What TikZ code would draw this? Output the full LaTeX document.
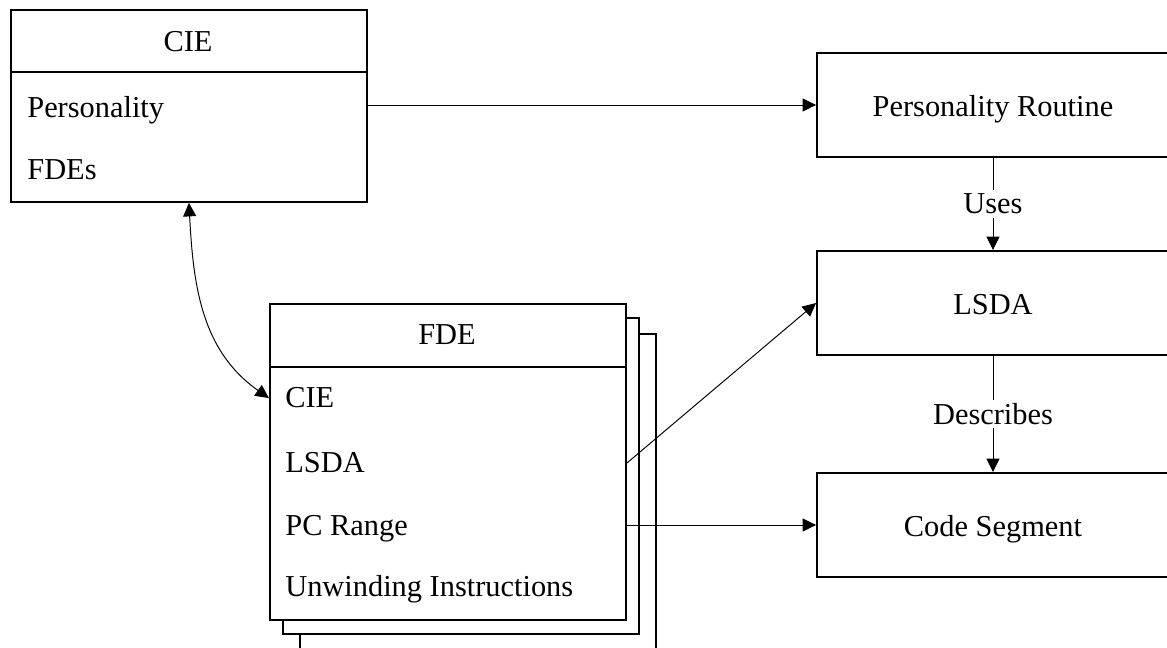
\documentclass[tikz,border=0pt]{standalone}
\usepackage{fontspec}
\setmainfont{Liberation Serif}
\usetikzlibrary{arrows.meta}

\begin{document}
\begin{tikzpicture}[x=0.02cm, y=-0.02cm, every node/.style={font=\fontsize{17.3}{20}\selectfont}, >={Triangle[length=2.7mm, width=2.6mm]},
	box/.style={draw, line width=1.1pt, fill=white, inner sep=0pt},
	recbox/.style={box, anchor=north west, minimum width=7.12cm},
	unitbox/.style={box, minimum width=7.04cm, minimum height=2.08cm, text height=17pt, text depth=3.4pt},
	field/.style={anchor=base west, inner sep=0pt},
	edgetag/.style={fill=white, inner sep=2pt},
	link/.style={->, line width=0.55pt}]
	\useasboundingbox (0,0) rectangle (1167,648);
	\clip (0,0) rectangle (1167,648);
	% CIE record
	\node[recbox, minimum height=3.84cm] (cie) at (10,9) {};
	\draw[line width=1.1pt] (cie.west |- 0,72) -- (cie.east |- 0,72);
	\node[anchor=base] (ciehead) at (188,52) {CIE};
	\node[field] (cpers) at (27,118) {Personality};
	\node[field] (cfdes) at (27,180) {FDEs};
	% FDE records, stacked
	\foreach \dx/\dy/\n in {30/30/3, 13/14/2}
		\node[recbox, minimum height=6.32cm] (fdeback\n) at (269+\dx,303+\dy) {};
	\node[recbox, minimum height=6.32cm] (fde) at (269,303) {};
	\draw[line width=1.1pt] (fde.west |- 0,367) -- (fde.east |- 0,367);
	\node[anchor=base] (fdehead) at (447,345) {FDE};
	\node[field] (fcie) at (285,408) {CIE};
	\node[field] (flsda) at (285,473) {LSDA};
	\node[field] (frange) at (285,536) {PC Range};
	\node[field] (funwind) at (285,597) {Unwinding Instructions};
	% right column
	\node[unitbox] (persrout) at (993,105) {Personality Routine};
	\node[unitbox] (lsda) at (993,303) {LSDA};
	\node[unitbox] (code) at (993,525) {Code Segment};
	% connectors
	\draw[link] (cie.east |- persrout.west) -- (persrout.west);
	\draw[link, <->] (cie.south) to[out=-87, in=145] (fde.west |- fcie);
	\draw[link] (fde.east |- flsda) -- (lsda.west);
	\draw[link] (fde.east |- code.west) -- (code.west);
	\draw[link] (persrout) -- node[edgetag] (uses) {Uses} (lsda);
	\draw[link] (lsda) -- node[edgetag] (describes) {Describes} (code);
\end{tikzpicture}
\end{document}
